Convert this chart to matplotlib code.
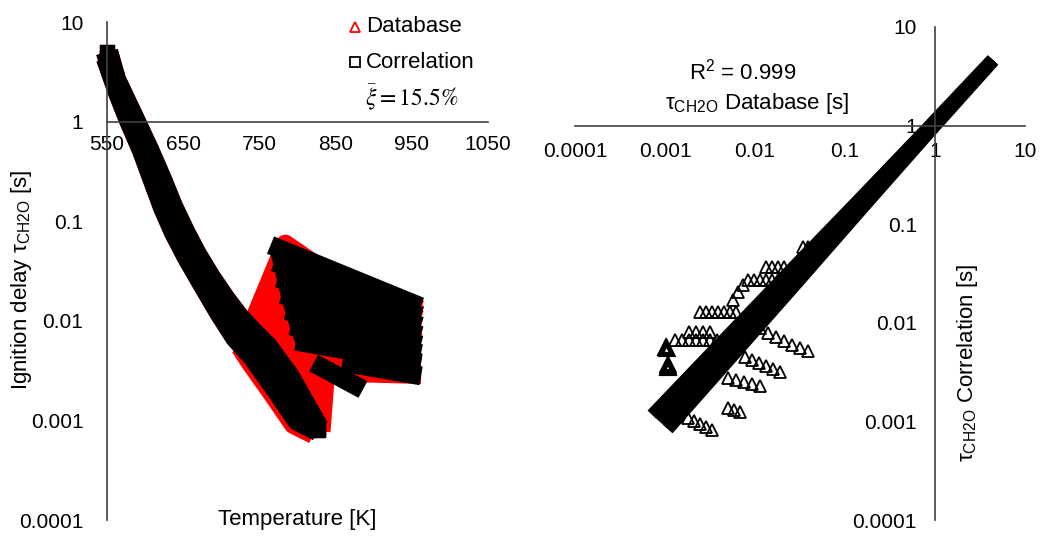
import matplotlib
matplotlib.use('Agg')
import matplotlib.pyplot as plt
from matplotlib.lines import Line2D
from matplotlib.ticker import NullLocator

plt.rcParams['font.family'] = ['Liberation Sans', 'DejaVu Sans']

## Left panel data: ignition delay vs temperature
# main band (low temperature branch): right and left curves of the band
band_T_r = [550, 560.5, 585.4, 603.8, 620.9, 635.3, 651.0, 666.8, 685.2, 704.9, 721.9, 740.3, 760.0,
            788.8, 805.9, 826.9]
band_tau_r = [5.0, 2.62, 1.038, 0.519, 0.2593, 0.1389, 0.0779, 0.0458, 0.0269, 0.01617, 0.01092,
              0.00772, 0.00546, 0.00273, 0.0016, 0.000839]
band_T_l = [550, 567.1, 580.2, 597.2, 611.7, 624.8, 639.2, 656.3, 676.0, 698.3, 719.3, 742.9, 771.8,
            800.7, 826.9]
band_tau_l = [4.35, 1.85, 1.038, 0.519, 0.2593, 0.1389, 0.0779, 0.0437, 0.02396, 0.01226, 0.00688,
              0.00433, 0.002115, 0.00101, 0.000801]
# database only: lower edge of the band
db_low_T = [724.5, 736.9, 765.7, 794.6, 820.9]
db_low_tau = [0.00546, 0.00389, 0.0019, 0.000907, 0.00072]

# NTC branch, correlation: start point -> 950 K
ntc_T_start = [776, 781, 786, 791, 797, 803, 810]
ntc_corr_start = [0.053, 0.036, 0.025, 0.0173, 0.012, 0.0085, 0.006]
ntc_T_end = 950
ntc_corr_end = [0.0151, 0.0120, 0.0095, 0.00755, 0.0060, 0.0049, 0.0039]
strip1_T = [832, 875]
strip1_corr = [0.0034, 0.00226]
strip2_T = [871, 950]
strip2_corr = [0.0037, 0.0029]

# NTC branch, database: band point -> peak -> 950 K
ntc_db_T = [[747, 784, 840, 950], [755, 787, 950], [762, 790, 950], [777, 795, 950],
            [787, 799, 950], [795, 803, 950], [811, 819, 950], [832, 837, 950]]
ntc_db_tau = [[0.01225, 0.059, 0.030, 0.0140], [0.0085, 0.041, 0.0125], [0.0063, 0.029, 0.011],
              [0.00404, 0.0182, 0.0091], [0.0031, 0.013, 0.0075], [0.00243, 0.0095, 0.0062],
              [0.0016, 0.00486, 0.0039], [0.00096, 0.00306, 0.0029]]

## Right panel data: correlation vs database
diag_db_a = [0.000714, 0.00408, 0.02328, 0.134, 0.7656, 4.31]
diag_corr_a = [0.00117, 0.00617, 0.0324, 0.169, 0.888, 4.71]
diag_db_m = [0.00088, 0.00483, 0.0266, 0.146, 0.802, 4.41]
diag_corr_m = [0.000986, 0.00535, 0.029, 0.157, 0.853, 4.62]
diag_db_b = [0.00108, 0.00573, 0.0303, 0.159, 0.840, 4.51]
diag_corr_b = [0.00083, 0.00464, 0.026, 0.1466, 0.820, 4.54]

# scattered points off the diagonal (groups of open triangles)
off_db = [
    0.00245, 0.00286, 0.00333, 0.00388, 0.00452, 0.00527, 0.00614,
    0.0084, 0.0098, 0.0114, 0.0132, 0.0154, 0.018, 0.021,
    0.0132, 0.0154, 0.018, 0.021,
    0.0341, 0.0389,
    0.0057, 0.0065, 0.0074,
    0.00129, 0.00154, 0.00185, 0.00221, 0.00264, 0.00316, 0.00378,
    0.00185, 0.00221, 0.00264, 0.00316,
    0.0114, 0.0139, 0.0171, 0.021, 0.0258, 0.0316, 0.0388,
    0.00774, 0.00929, 0.0111, 0.0133, 0.0159, 0.019,
    0.005, 0.00615, 0.00755, 0.00929, 0.0114,
    0.005, 0.00585, 0.00681,
    0.0018, 0.0021, 0.00245, 0.00286, 0.00333,
]
off_corr = [
    0.0129, 0.0129, 0.0129, 0.0129, 0.0129, 0.0129, 0.0129,
    0.0272, 0.0272, 0.0272, 0.0272, 0.0272, 0.0272, 0.0272,
    0.0368, 0.0368, 0.0368, 0.0368,
    0.0587, 0.0587,
    0.017, 0.0205, 0.0242,
    0.0067, 0.0067, 0.0067, 0.0067, 0.0067, 0.0067, 0.0067,
    0.0081, 0.0081, 0.0081, 0.0081,
    0.00885, 0.00788, 0.00718, 0.00654, 0.00595, 0.00555, 0.00518,
    0.0045, 0.0042, 0.0039, 0.00365, 0.0034, 0.00317,
    0.00275, 0.00263, 0.00251, 0.00239, 0.00229,
    0.00137, 0.0013, 0.00124,
    0.00108, 0.00101, 0.00094, 0.00088, 0.00082,
]
dense_db = [0.00102, 0.00104, 0.00103, 0.00107, 0.00109, 0.00108]
dense_corr = [0.0056, 0.0054, 0.0055, 0.0036, 0.0035, 0.0037]

y_ticks = [1e-4, 1e-3, 1e-2, 1e-1, 1, 10]
y_labels = ['0.0001', '0.001', '0.01', '0.1', '1', '10']
t_ticks = [550, 650, 750, 850, 950, 1050]

RED = '#ff0000'
BLACK = '#000000'
AXC = '#404040'
LW = 13.5       # thick line = strip of overlapping markers
BAND_LW = 16    # main low temperature band


def curve(ax, x, y, color, lw=LW, cap='projecting'):
    ax.plot(x, y, color=color, lw=lw, solid_capstyle=cap, clip_on=False)


def band(ax, x, y, color):
    # band of markers: thick line, square markers at both ends
    ax.plot(x, y, color=color, lw=BAND_LW, solid_capstyle='butt', marker='s', ms=10,
            markevery=[0, len(x) - 1], mfc=color, mec=color, clip_on=False)


def setup_axis(ax, xpad, ypad):
    ax.set_yscale('log')
    ax.set_ylim(1e-4, 10)
    ax.set_yticks(y_ticks)
    ax.set_yticklabels(y_labels)
    ax.yaxis.set_minor_locator(NullLocator())
    ax.xaxis.set_minor_locator(NullLocator())
    ax.spines['top'].set_visible(False)
    ax.spines['right'].set_visible(False)
    ax.spines['bottom'].set_position(('data', 1))  # x axis crosses at 1
    for s in ['left', 'bottom']:
        ax.spines[s].set_color(AXC)
        ax.spines[s].set_linewidth(1.2)
    ax.tick_params(axis='x', length=0, labelsize=15, pad=xpad, colors='#000000')
    ax.tick_params(axis='y', length=0, labelsize=15, pad=ypad, colors='#000000')
    ax.patch.set_alpha(0)


fig = plt.figure(figsize=(10.45, 5.38), dpi=100)
ax1 = fig.add_axes([107 / 1045, 18 / 538, 381 / 1045, 498 / 538])
ax2 = fig.add_axes([575 / 1045, 18 / 538, 450 / 1045, 493 / 538])

## left panel
# database (red) first, correlation (black) on top
band(ax1, band_T_r, band_tau_r, RED)
band(ax1, band_T_l, band_tau_l, RED)
curve(ax1, db_low_T, db_low_tau, RED, cap='butt')
for T, tau in zip(ntc_db_T, ntc_db_tau):
    curve(ax1, T, tau, RED)

band(ax1, band_T_r, band_tau_r, BLACK)
band(ax1, band_T_l, band_tau_l, BLACK)
for t0, c0, c1 in zip(ntc_T_start, ntc_corr_start, ntc_corr_end):
    curve(ax1, [t0, ntc_T_end], [c0, c1], BLACK)
curve(ax1, ntc_T_start, ntc_corr_start, BLACK, cap='butt')  # left edge of the NTC block
curve(ax1, strip1_T, strip1_corr, BLACK)
curve(ax1, strip2_T, strip2_corr, BLACK)

ax1.set_xlim(550, 1050)
ax1.set_xticks(t_ticks)
ax1.set_xticklabels([str(t) for t in t_ticks])
setup_axis(ax1, 10, 17)

## right panel
ax2.set_xscale('log')
ax2.set_xlim(1e-4, 10)
ax2.set_xticks(y_ticks)
ax2.set_xticklabels(y_labels)
setup_axis(ax2, 12, 13)
ax2.spines['left'].set_position(('data', 1))  # y axis crosses at 1

for xd, yc in [(diag_db_a, diag_corr_a), (diag_db_m, diag_corr_m), (diag_db_b, diag_corr_b)]:
    ax2.plot(xd, yc, color=BLACK, lw=8.6, solid_capstyle='butt', solid_joinstyle='round')
ax2.plot(off_db, off_corr, ls='none', marker='^', ms=8, mfc='none', mec=BLACK, mew=1.3)
ax2.plot(dense_db, dense_corr, ls='none', marker='^', ms=8, mfc='none', mec=BLACK, mew=3)

## texts
def px(x, y):
    return x / 1045, 1 - y / 538


fig.text(*px(297, 519), 'Temperature [K]', ha='center', va='center', fontsize=16)
fig.text(*px(22, 280), r'Ignition delay τ$_{\mathregular{CH2O}}$ [s]', ha='center', va='center',
         rotation=90, fontsize=16)
fig.text(*px(743, 72), r'R$^{\mathregular{2}}$ = 0.999', ha='center', va='center', fontsize=16)
fig.text(*px(757, 103), r'τ$_{\mathregular{CH2O}}$ Database [s]', ha='center', va='center', fontsize=16)
fig.text(*px(967, 363), r'τ$_{\mathregular{CH2O}}$ Correlation [s]', ha='center', va='center',
         rotation=90, fontsize=16)

# legend
fig.add_artist(Line2D([355 / 1045], [1 - 27 / 538], marker='^', ms=7, mfc='none', mec=RED, mew=1.3,
                      ls='none', transform=fig.transFigure))
fig.add_artist(Line2D([355 / 1045], [1 - 62 / 538], marker='s', ms=7.5, mfc='none', mec=BLACK, mew=1.3,
                      ls='none', transform=fig.transFigure))
fig.text(*px(366, 27), 'Database', ha='left', va='center', fontsize=16)
fig.text(*px(366, 62), 'Correlation', ha='left', va='center', fontsize=16)
fig.text(*px(412, 97), r'$\bar{\xi} = 15.5\%$', ha='center', va='center', fontsize=17,
         math_fontfamily='stix')

fig.savefig('out.png', dpi=100)
